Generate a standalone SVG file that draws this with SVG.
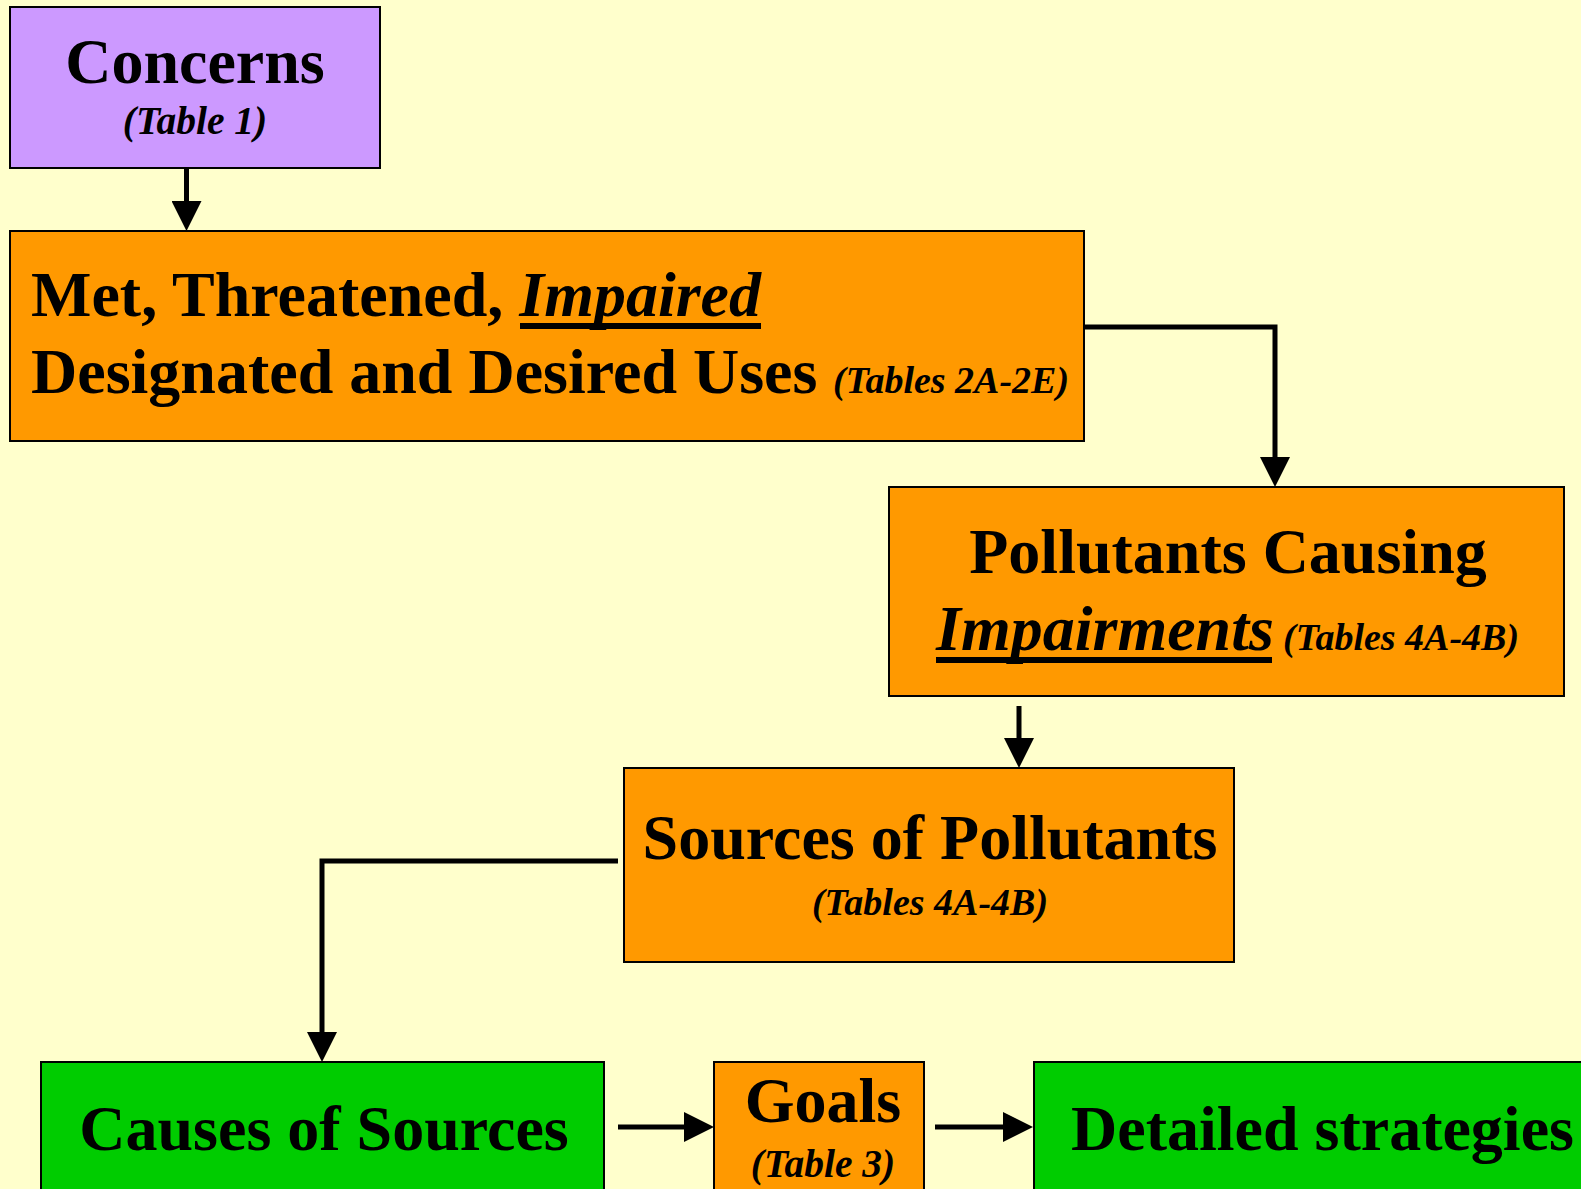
<svg xmlns="http://www.w3.org/2000/svg" width="1581" height="1189" viewBox="0 0 1581 1189">
<style>
.box{stroke:#000;stroke-width:2}
.purple{fill:#CC99FF}
.orange{fill:#FF9900}
.green{fill:#00CC00}
.t{font-family:"Liberation Serif","Times New Roman",serif;font-weight:bold;fill:#000}
.big{font-size:64px}
.sm{font-size:38px;font-style:italic}
.smb{font-size:39.5px}
.it{font-style:italic}
.conn{fill:none;stroke:#000;stroke-width:5}
</style>
<defs>
<marker id="ah" markerUnits="userSpaceOnUse" markerWidth="30" markerHeight="30" refX="10" refY="15" orient="auto" viewBox="0 0 30 30">
<path d="M0,0 L30,15 L0,30 z" fill="#000"/>
</marker>
</defs>
<rect width="1581" height="1189" fill="#FFFFCC"/>

<g id="connectors">
<path class="conn" d="M186.5,168 V211" marker-end="url(#ah)"/>
<path class="conn" d="M1084,327 H1275 V467" marker-end="url(#ah)"/>
<path class="conn" d="M1019,706 V748" marker-end="url(#ah)"/>
<path class="conn" d="M618,861 H322 V1042" marker-end="url(#ah)"/>
<path class="conn" d="M618,1127 H694" marker-end="url(#ah)"/>
<path class="conn" d="M935,1127 H1013" marker-end="url(#ah)"/>
</g>

<g id="concerns">
<rect class="box purple" x="10" y="7" width="370" height="161"/>
<text class="t big" x="195" y="83" text-anchor="middle">Concerns</text>
<text class="t sm smb" x="195" y="134" text-anchor="middle">(Table 1)</text>
</g>

<g id="uses">
<rect class="box orange" x="10" y="231" width="1074" height="210"/>
<text class="t big" x="31" y="316">Met, Threatened, <tspan class="it">Impaired</tspan></text>
<rect x="520" y="323" width="241" height="6" fill="#000"/>
<text class="t big" x="31" y="393">Designated and Desired Uses</text>
<text class="t sm" x="833" y="393">(Tables 2A-2E)</text>
</g>

<g id="pollutants">
<rect class="box orange" x="889" y="487" width="675" height="209"/>
<text class="t big" x="1228" y="573" text-anchor="middle">Pollutants Causing</text>
<text class="t big it" x="936" y="650">Impairments</text>
<rect x="936" y="657" width="336" height="6" fill="#000"/>
<text class="t sm" x="1283" y="650">(Tables 4A-4B)</text>
</g>

<g id="sources">
<rect class="box orange" x="624" y="768" width="610" height="194"/>
<text class="t big" x="930" y="859" text-anchor="middle">Sources of Pollutants</text>
<text class="t sm" x="930" y="915" text-anchor="middle">(Tables 4A-4B)</text>
</g>

<g id="causes">
<rect class="box green" x="41" y="1062" width="563" height="140"/>
<text class="t big" x="324" y="1150" text-anchor="middle">Causes of Sources</text>
</g>

<g id="goals">
<rect class="box orange" x="714" y="1062" width="210" height="140"/>
<text class="t big" x="823" y="1122" text-anchor="middle">Goals</text>
<text class="t sm smb" x="823" y="1177" text-anchor="middle">(Table 3)</text>
</g>

<g id="strategies">
<rect class="box green" x="1034" y="1062" width="560" height="140"/>
<text class="t big" x="1071" y="1150">Detailed strategies</text>
</g>
</svg>
